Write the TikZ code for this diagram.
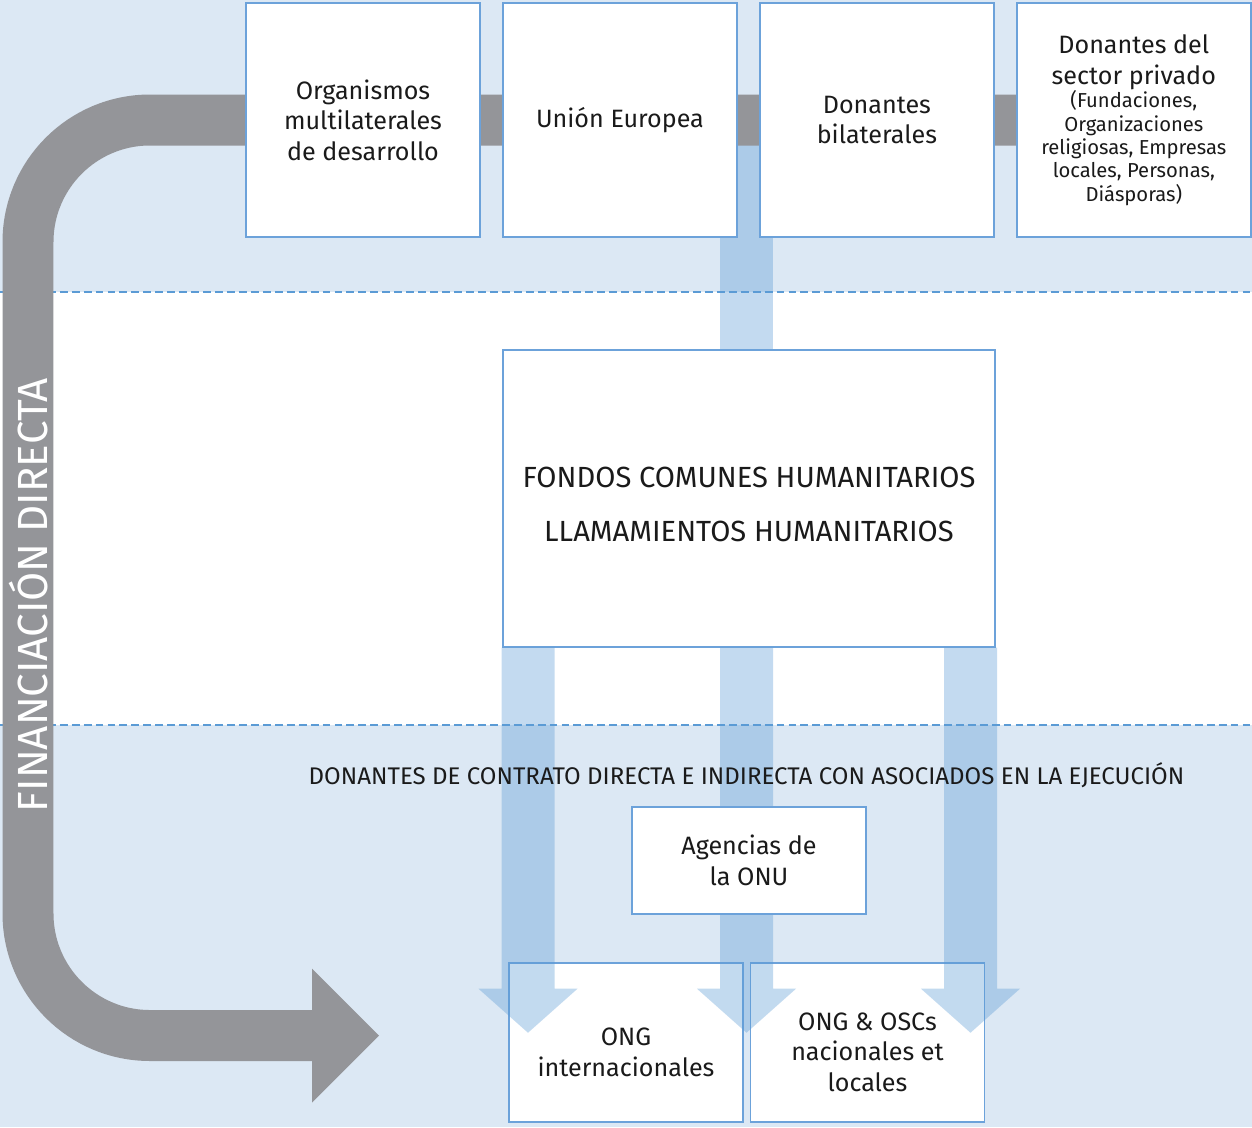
\documentclass[tikz,border=0pt]{standalone}
\usepackage{fontspec}
\setmainfont{Fira Sans}
\usepackage{xcolor}
\definecolor{cBg}{HTML}{DCE8F4}
\definecolor{cRule}{HTML}{5B9BD5}
\definecolor{cEdge}{HTML}{6CA2DA}
\definecolor{cFlow}{HTML}{5B9BD5}
\definecolor{cGrey}{HTML}{949599}
\definecolor{cInk}{HTML}{1A1A1A}
\usepackage{tikz}
\usetikzlibrary{positioning, backgrounds}
\pgfdeclarelayer{back}
\pgfdeclarelayer{mid}
\pgfsetlayers{back,mid,main}

\begin{document}
\begin{tikzpicture}[
    x=0.02cm, y=-0.02cm,
    donor/.style={draw=cEdge, line width=0.85pt, fill=white, align=center,
                  minimum width=4.68cm, minimum height=4.68cm, inner sep=2pt,
                  text=cInk, font=\fontsize{14.3}{17.4}\selectfont},
    poolbox/.style={donor, minimum width=9.84cm, minimum height=5.94cm,
                    font=\fontsize{16.6}{30.6}\selectfont},
    partner/.style={donor, minimum height=3.18cm},
    agency/.style={donor, minimum height=2.14cm},
    band/.style={fill=cBg, draw=none},
    sep/.style={cRule, line width=0.8pt, dash pattern=on 4.5pt off 2.3pt},
    flow/.style={fill=cFlow, fill opacity=0.37},
    finband/.style={draw=cGrey, line width=1.02cm, rounded corners=2.44cm},
    node distance=0.43cm
]
\useasboundingbox (0,0) rectangle (1252,1127);

% background bands
\begin{pgfonlayer}{back}
\fill[band] (0,0) rectangle (1252,292);
\fill[band] (0,725) rectangle (1252,1127);
\draw[sep] (0,292) -- (1252,292);
\draw[sep] (0,725) -- (1252,725);
\end{pgfonlayer}

% donors
\node[donor] (multi) at (363,120) {Organismos\\multilaterales\\de desarrollo};
\node[donor, right=of multi] (ue) {Unión Europea};
\node[donor, right=of ue] (bilat) {Donantes\\bilaterales};
\node[donor, right=of bilat, font=\fontsize{11.5}{13.3}\selectfont] (priv)
    {{\fontsize{14.3}{17}\selectfont Donantes del}\\[4.3pt]
     {\fontsize{14.3}{17}\selectfont sector privado}\\
     (Fundaciones,\\Organizaciones\\religiosas, Empresas\\locales, Personas,\\Diásporas)};

% pooled funds
\node[poolbox] (fondos) at (749,498.5)
    {\rule{0pt}{18.5pt}FONDOS COMUNES HUMANITARIOS\\LLAMAMIENTOS HUMANITARIOS};

% implementing partners
\node[partner] (ongi) at (626,1042.5) {\rule{0pt}{21pt}ONG\\internacionales};
\node[partner, right=0.12cm of ongi] (ongn)
    {\rule{0pt}{21pt}ONG \& OSCs\\nacionales et\\locales};

\begin{pgfonlayer}{back}
\fill[flow] (fondos.north) ++(-29,0) rectangle ++(53,-205);
\end{pgfonlayer}

% direct funding
\begin{pgfonlayer}{mid}
\coordinate (bend) at (28,1035.5);
\coordinate (head) at (312,1035.5);
\draw[finband] (priv.west) -| (bend) -- (head);
\fill[cGrey] (head) ++(0,-67) -- ++(67,67) -- ++(-67,67) -- cycle;
\end{pgfonlayer}
\node[rotate=90, text=white, font=\fontsize{24}{28}\selectfont] (fin) at (29,595)
    {FINANCIACIÓN DIRECTA};

% flows down to partners
\foreach \dx in {-221,-2.5,221.5}
  \fill[flow] (fondos.south) ++(\dx-26.5,0) -- ++(53,0) -- ++(0,341)
    -- ++(23,0) -- ++(-49.5,44) -- ++(-49.5,-44) -- ++(23,0) -- cycle;

\node[agency] (onu) at (749,860.5) {Agencias de\\la ONU};
\node[text=cInk, font=\fontsize{13.7}{16}\selectfont] (contrato) at (746.5,775)
    {DONANTES DE CONTRATO DIRECTA E INDIRECTA CON ASOCIADOS EN LA EJECUCIÓN};
\end{tikzpicture}
\end{document}
